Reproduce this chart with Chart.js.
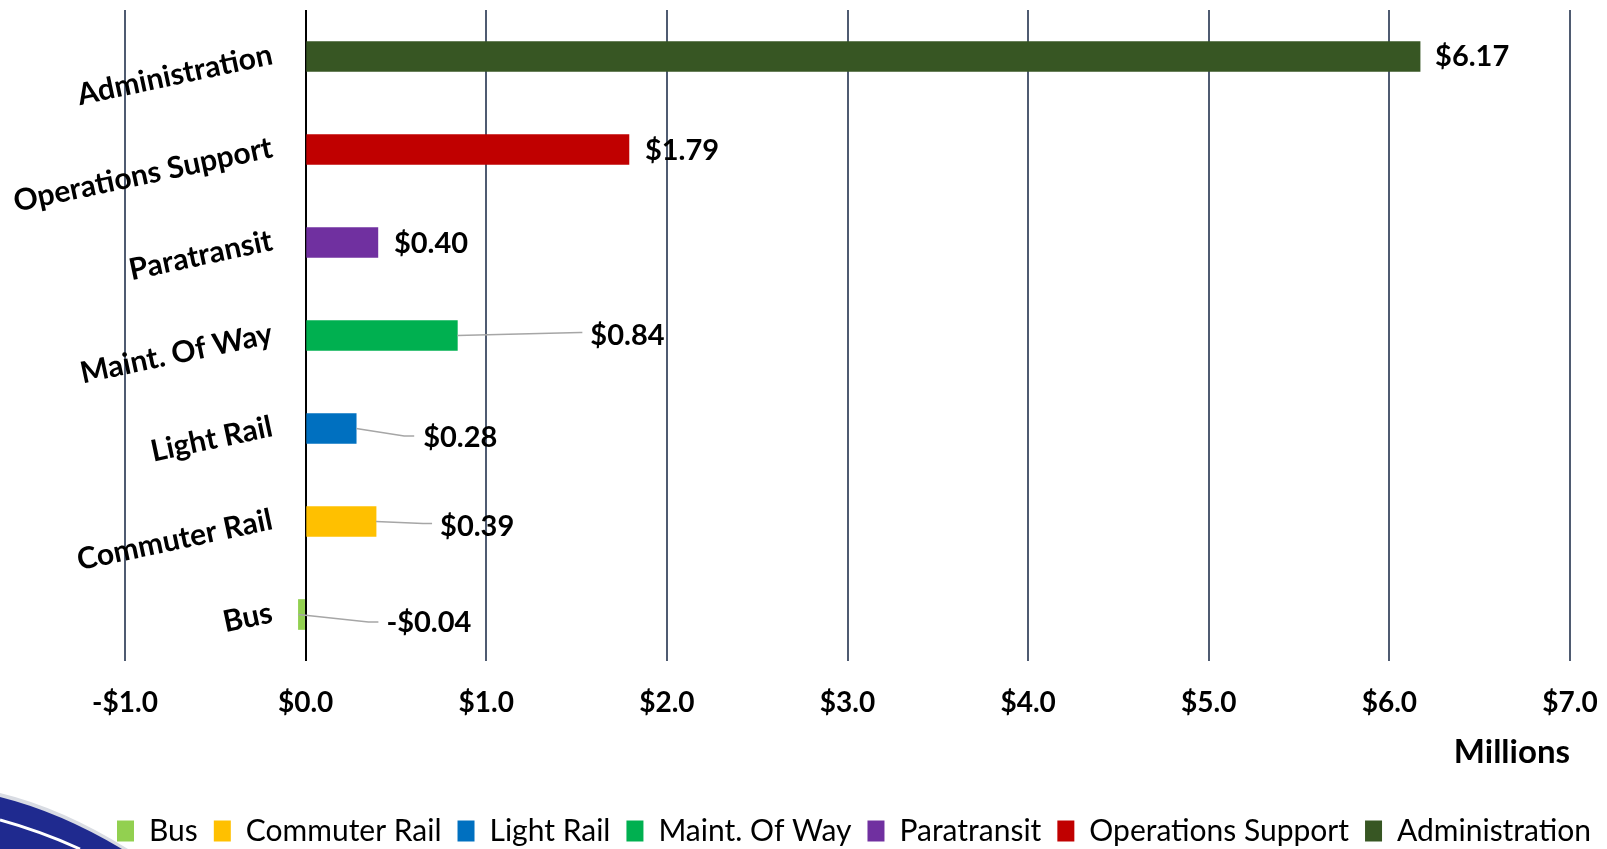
<!DOCTYPE html>
<html>
<head>
<meta charset="utf-8">
<script src="https://cdn.jsdelivr.net/npm/chart.js@4/dist/chart.umd.min.js"></script>
<style>
html,body{margin:0;padding:0;background:#ffffff;}
#wrap{width:1607px;height:849px;position:relative;overflow:hidden;}
</style>
</head>
<body>
<div id="wrap"><canvas id="c" width="1607" height="849"></canvas></div>
<script>
// ---- data ----
const categories = ['Bus', 'Commuter Rail', 'Light Rail', 'Maint. Of Way', 'Paratransit', 'Operations Support', 'Administration'];
const values = [-0.04, 0.39, 0.28, 0.84, 0.40, 1.79, 6.17];
const xMin = -1;
const xMax = 7;
const xStep = 1;
const axisTitle = 'Millions';

// ---- styles ----
const colors = ['#92D050', '#FFC000', '#0070C0', '#00B050', '#7030A0', '#C00000', '#375623'];
// label placement relative to bar end (style only)
const labelLayout = [
  {dx: 88, dy: 8.5, leader: true, bend: 18, ly: -1, end: 8},
  {dx: 64, dy: 5, leader: true, bend: 17, ly: -3, end: 8},
  {dx: 67, dy: 9.5, leader: true, bend: 19, ly: -2, end: 9},
  {dx: 133, dy: 0, leader: true, bend: 10, ly: -3, end: 8},
  {dx: 16, dy: 1, leader: false},
  {dx: 16, dy: 1, leader: false},
  {dx: 15, dy: 0, leader: false}
];

function money(v, d) {
  return (v < 0 ? '-$' : '$') + Math.abs(v).toFixed(d);
}

const datasets = categories.map((name, i) => ({
  label: name,
  data: categories.map((c, j) => (j === i ? values[i] : null)),
  backgroundColor: colors[i],
  borderColor: colors[i],
  borderWidth: 0,
  barThickness: 30,
  grouped: false
}));

const swooshPlugin = {
  id: 'swoosh',
  beforeDraw(chart) {
    const ctx = chart.ctx;
    ctx.save();
    ctx.fillStyle = '#D9DCE3';
    ctx.beginPath();
    ctx.moveTo(0, 793);
    ctx.quadraticCurveTo(62, 808, 128, 849);
    ctx.lineTo(0, 849);
    ctx.closePath();
    ctx.fill();
    ctx.fillStyle = '#1F2A8F';
    ctx.beginPath();
    ctx.moveTo(0, 797);
    ctx.quadraticCurveTo(60, 812, 122, 849);
    ctx.lineTo(0, 849);
    ctx.closePath();
    ctx.fill();
    ctx.strokeStyle = '#FFFFFF';
    ctx.lineWidth = 3;
    ctx.beginPath();
    ctx.moveTo(0, 820);
    ctx.quadraticCurveTo(40, 831, 80, 849);
    ctx.stroke();
    ctx.restore();
  }
};

const valueLabelPlugin = {
  id: 'valueLabels',
  afterDatasetsDraw(chart) {
    const ctx = chart.ctx;
    ctx.save();
    chart.data.datasets.forEach((ds, i) => {
      const meta = chart.getDatasetMeta(i);
      const el = meta.data[i];
      if (!el) return;
      const o = labelLayout[i];
      const x0 = el.x, y0 = el.y;
      const tx = x0 + o.dx, ty = y0 + o.dy;
      if (o.leader) {
        ctx.beginPath();
        ctx.strokeStyle = '#A6A6A6';
        ctx.lineWidth = 1.5;
        ctx.moveTo(x0, y0);
        ctx.lineTo(tx - o.bend, ty + o.ly);
        ctx.lineTo(tx - o.end, ty + o.ly);
        ctx.stroke();
      }
      ctx.font = 'bold 29px Lato';
      ctx.fillStyle = '#000000';
      ctx.textAlign = 'left';
      ctx.textBaseline = 'middle';
      ctx.fillText(money(values[i], 2), tx, ty);
    });
    ctx.restore();
  }
};

function draw() {
  Chart.defaults.font.family = 'Lato, "Open Sans", sans-serif';
  Chart.defaults.color = '#000000';
  new Chart(document.getElementById('c'), {
    type: 'bar',
    data: {labels: categories, datasets: datasets},
    options: {
      indexAxis: 'y',
      responsive: false,
      animation: false,
      devicePixelRatio: 1,
      skipNull: true,
      layout: {padding: {left: 0, right: 0, top: 10, bottom: -7}},
      plugins: {
        legend: {
          position: 'bottom',
          align: 'end',
          labels: {
            font: {size: 30, weight: 'normal'},
            color: '#000000',
            boxWidth: 17,
            boxHeight: 21,
            padding: 16
          }
        },
        tooltip: {enabled: false}
      },
      scales: {
        x: {
          type: 'linear',
          min: xMin,
          max: xMax,
          ticks: {
            stepSize: xStep,
            callback: (v) => money(v, 1),
            font: {size: 28, weight: 'bold', lineHeight: 1.2},
            color: '#000000',
            padding: 25
          },
          grid: {
            color: (c) => (c.tick && c.tick.value === 0 ? '#000000' : '#4F5B71'),
            lineWidth: 2,
            drawTicks: false
          },
          border: {display: false},
          title: {
            display: true,
            text: axisTitle,
            align: 'end',
            color: '#000000',
            font: {size: 33, weight: 'bold', lineHeight: 1.2},
            padding: {top: 0, bottom: 28}
          },
          afterFit(s) {
            s.height = 139;
            s.paddingLeft = 0;
            s.paddingRight = 37;
          }
        },
        y: {
          type: 'category',
          reverse: true,
          grid: {display: false},
          border: {display: false},
          ticks: {
            font: {size: 30, weight: 'bold'},
            color: '#000000',
            minRotation: 12,
            maxRotation: 12,
            padding: -155,
            labelOffset: -2,
            autoSkip: false
          },
          afterFit(s) {
            s.width = 125;
            s.paddingTop = 0;
            s.paddingBottom = 0;
            // labels sit over the plot area, so do not clip them to the axis box
            s._computeLabelArea = function () { return undefined; };
          }
        }
      }
    },
    plugins: [swooshPlugin, valueLabelPlugin]
  });
}

Promise.all([
  document.fonts.load('bold 30px Lato'),
  document.fonts.load('30px Lato')
]).then(draw, draw);
</script>
</body>
</html>
